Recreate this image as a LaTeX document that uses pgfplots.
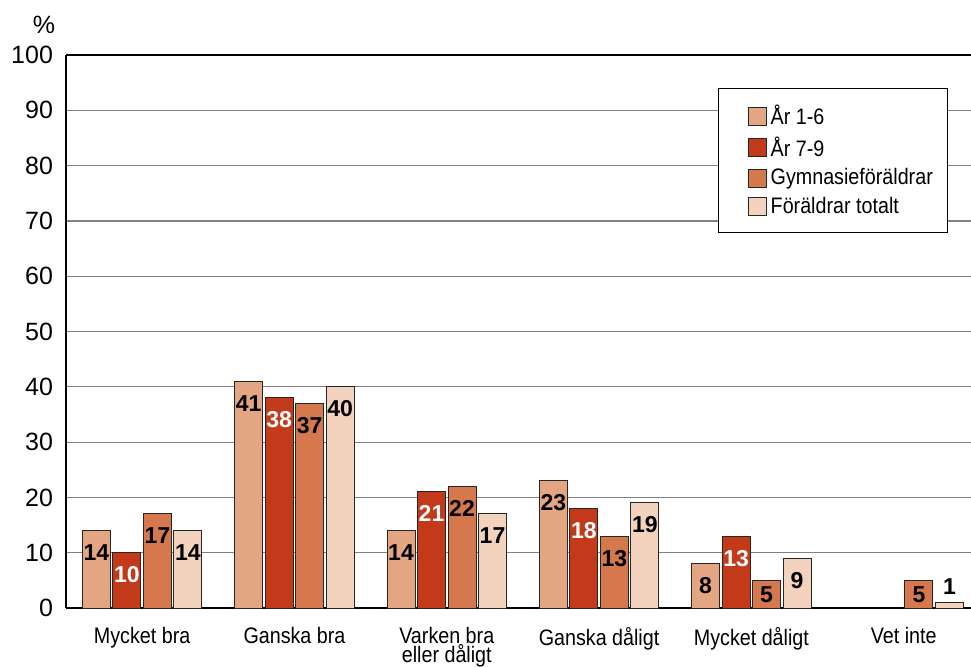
\documentclass[border=0pt]{standalone}
\usepackage{fontspec}
\setmainfont{Liberation Sans}
\newfontfamily\narrow[FakeStretch=0.88]{Liberation Sans}
\usepackage{pgfplots}
\pgfplotsset{compat=1.18}

\definecolor{arA}{RGB}{228,166,130}
\definecolor{arB}{RGB}{194,58,26}
\definecolor{gym}{RGB}{213,120,78}
\definecolor{tot}{RGB}{243,211,190}
\definecolor{gridc}{RGB}{128,128,128}

\begin{document}
\begin{tikzpicture}
\begin{axis}[
    scale only axis,
    width=452.5pt,
    height=276.5pt,
    ybar=1.25pt,
    bar width=14pt,
    xmin=-0.5, xmax=5.442,
    ymin=0, ymax=100,
    ytick={0,10,...,100},
    xtick={0,1,2,3,4,5},
    xticklabels={Mycket bra,Ganska bra,{Varken bra\\eller dåligt},Ganska dåligt,Mycket dåligt,Vet inte},
    xticklabel style={font=\narrow\fontsize{11.2}{9.8}\selectfont, align=center, yshift=-6pt},
    yticklabel style={font=\fontsize{12.5}{14}\selectfont, xshift=-3pt},
    /pgf/number format/assume math mode=true,
    major tick length=0pt,
    axis x line*=bottom,
    axis y line*=left,
    x axis line style={line width=1.2pt, -},
    y axis line style={line width=0.8pt, -},
    ymajorgrids,
    major grid style={gridc, line width=0.6pt},
    extra y ticks={100},
    extra y tick labels={},
    extra y tick style={grid=major, major grid style={black, line width=0.9pt}},
    legend image code/.code={\path[draw=none, fill=none] (0pt,0pt) -- (9.5pt,0pt);
        \draw[#1, draw=black!85, line width=0.5pt] (9.5pt,-4.5pt) rectangle (18.5pt,4.5pt);},
    legend style={at={(rel axis cs:0.72,0.94)}, anchor=north west, draw=black, line width=0.6pt,
        font=\narrow\fontsize{11.2}{12}\selectfont, inner xsep=5.5pt, inner ysep=6pt,
        row sep=0.7pt, cells={anchor=west}},
    legend cell align=left,
    nodes near coords,
    visualization depends on={rawy \as \rawy},
    every node near coord/.append style={font=\bfseries\fontsize{11.5}{12}\selectfont, anchor=center,
        yshift={ifthenelse(\rawy<2,8,ifthenelse(\rawy<6,-7,-11))*1pt}},
]
\addplot[fill=arA, draw=black!85, line width=0.5pt] coordinates {(0,14) (1,41) (2,14) (3,23) (4,8)};
\addplot[fill=arB, draw=black!85, line width=0.5pt, every node near coord/.append style={text=white}] coordinates {(0,10) (1,38) (2,21) (3,18) (4,13)};
\addplot[fill=gym, draw=black!85, line width=0.5pt] coordinates {(0,17) (1,37) (2,22) (3,13) (4,5) (5,5)};
\addplot[fill=tot, draw=black!85, line width=0.5pt] coordinates {(0,14) (1,40) (2,17) (3,19) (4,9) (5,1)};
\legend{År 1-6, År 7-9, Gymnasieföräldrar, Föräldrar totalt}
\coordinate (sw) at (rel axis cs:0,0);
\coordinate (ne) at (rel axis cs:1,1);
\end{axis}
\node[font=\fontsize{12.5}{14}\selectfont] at ([shift={(-11pt,15pt)}]sw |- ne) {\%};
\pgfresetboundingbox
\path ([shift={(-33pt,-29pt)}]sw) rectangle ([shift={(0pt,27.5pt)}]ne);
\end{tikzpicture}
\end{document}
